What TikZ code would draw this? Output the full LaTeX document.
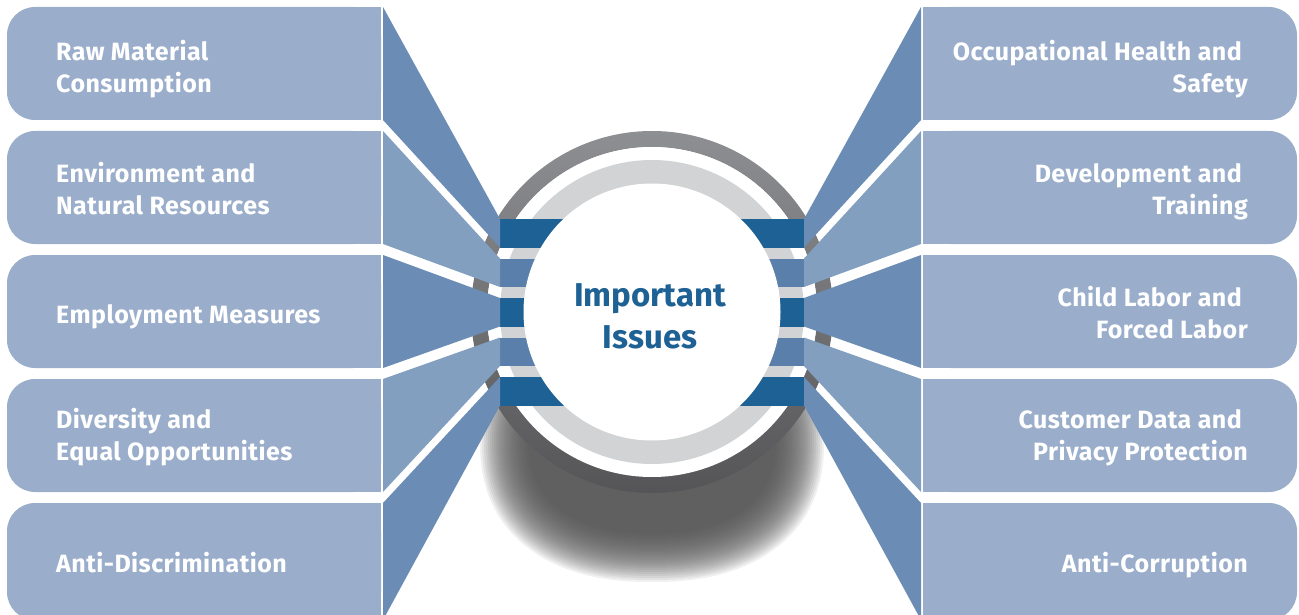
\documentclass[tikz,border=0pt]{standalone}
\usepackage{fontspec}
\setmainfont{Fira Sans}
\definecolor{boxc}{HTML}{9AAECB}
\definecolor{wdark}{HTML}{6B8CB4}
\definecolor{wlight}{HTML}{829FC0}
\definecolor{bdark}{HTML}{1E6194}
\definecolor{bmid}{HTML}{5A7FAA}
\definecolor{lring}{HTML}{D1D3D4}
\definecolor{dringtop}{HTML}{8E8F92}
\definecolor{dringbot}{HTML}{555557}
\definecolor{shad}{HTML}{4E4E4E}
\begin{document}
\begin{tikzpicture}[x=1pt,y=-1pt,
  lbl/.style={font=\fontsize{25}{32}\selectfont\bfseries\addfontfeature{LetterSpace=1.8}, text=white, inner sep=0pt},
  lleft/.style={lbl, anchor=west, align=left},
  lright/.style={lbl, anchor=east, align=right},
  boxfill/.style={fill=boxc},
  ctext/.style={font=\fontsize{33}{42}\selectfont\bfseries, text=bdark, align=center, inner sep=0pt}]
\useasboundingbox (0,0) rectangle (1299,615);
\coordinate (C) at (652,312);
% blurred shadow (superellipse, layered)
\foreach \k in {0,...,24}{
  \pgfmathsetmacro{\ra}{148+24-2*\k}
  \pgfmathsetmacro{\rb}{116+24-2*\k}
  \fill[shad, opacity=0.085] plot[domain=0:360, samples=120, smooth cycle]
    ({652+\ra*cos(\x)*pow(abs(cos(\x))+0.00001,-0.13)},
     {442+\rb*sin(\x)*pow(abs(sin(\x))+0.00001,-0.13)});
}
% dark outer ring
\shade[top color=dringtop, bottom color=dringbot, even odd rule] (C) circle[radius=181] (C) circle[radius=165];
\fill[white] (C) circle[radius=165];
\fill[lring] (C) circle[radius=152];
% bars
\foreach \i/\c in {0/bdark,1/bmid,2/bdark,3/bmid,4/bdark}{
  \fill[\c] (500,{219+39.5*\i}) rectangle (804,{247.5+39.5*\i});
}
\fill[white] (C) circle[radius=128.5];
% wedges and boxes
\foreach \i/\c in {0/wdark,1/wlight,2/wdark,3/wlight,4/wdark}{
  \pgfmathsetmacro{\t}{7+124*\i}
  \pgfmathsetmacro{\b}{\i==4 ? 620 : 120+124*\i}
  \pgfmathsetmacro{\bt}{219+39.5*\i}
  \pgfmathsetmacro{\bb}{247.5+39.5*\i}
  \fill[\c] (383,\t) -- (383,\b) -- (500,\bb) -- (500,\bt) -- cycle;
  \fill[\c] (921,\t) -- (921,\b) -- (804,\bb) -- (804,\bt) -- cycle;
  \fill[boxfill, rounded corners=28] (7,\t) rectangle (381,\b);
  \fill[boxfill] (150,\t) rectangle (381,\b);
  \fill[boxfill, rounded corners=28] (923,\t) rectangle (1297,\b);
  \fill[boxfill] (923,\t) rectangle (1150,\b);
}
% left labels
\node[lleft] (l1) at (56,70.5) {\strut Raw Material\\\strut Consumption};
\node[lleft] (l2) at (56,192.5) {\strut Environment and\\\strut Natural Resources};
\node[lleft] (l3) at (56,317.5) {\strut Employment Measures};
\node[lleft] (l4) at (56,438.5) {\strut Diversity and\\\strut Equal Opportunities};
\node[lleft] (l5) at (56,566.5) {\strut Anti-Discrimination};
% right labels
\node[lright] (r1) at (1248,70.5) {\strut Occupational Health and\hspace*{6pt}\\\strut Safety};
\node[lright] (r2) at (1248,192.5) {\strut Development and\hspace*{6pt}\\\strut Training};
\node[lright] (r3) at (1248,316.5) {\strut Child Labor and\hspace*{6pt}\\\strut Forced Labor};
\node[lright] (r4) at (1248,438.5) {\strut Customer Data and\hspace*{6pt}\\\strut Privacy Protection};
\node[lright] (r5) at (1248,566.5) {\strut Anti-Corruption};
% centre
\node[ctext] (ctr) at (650,319) {\strut Important\\\strut Issues};
\end{tikzpicture}
\end{document}
